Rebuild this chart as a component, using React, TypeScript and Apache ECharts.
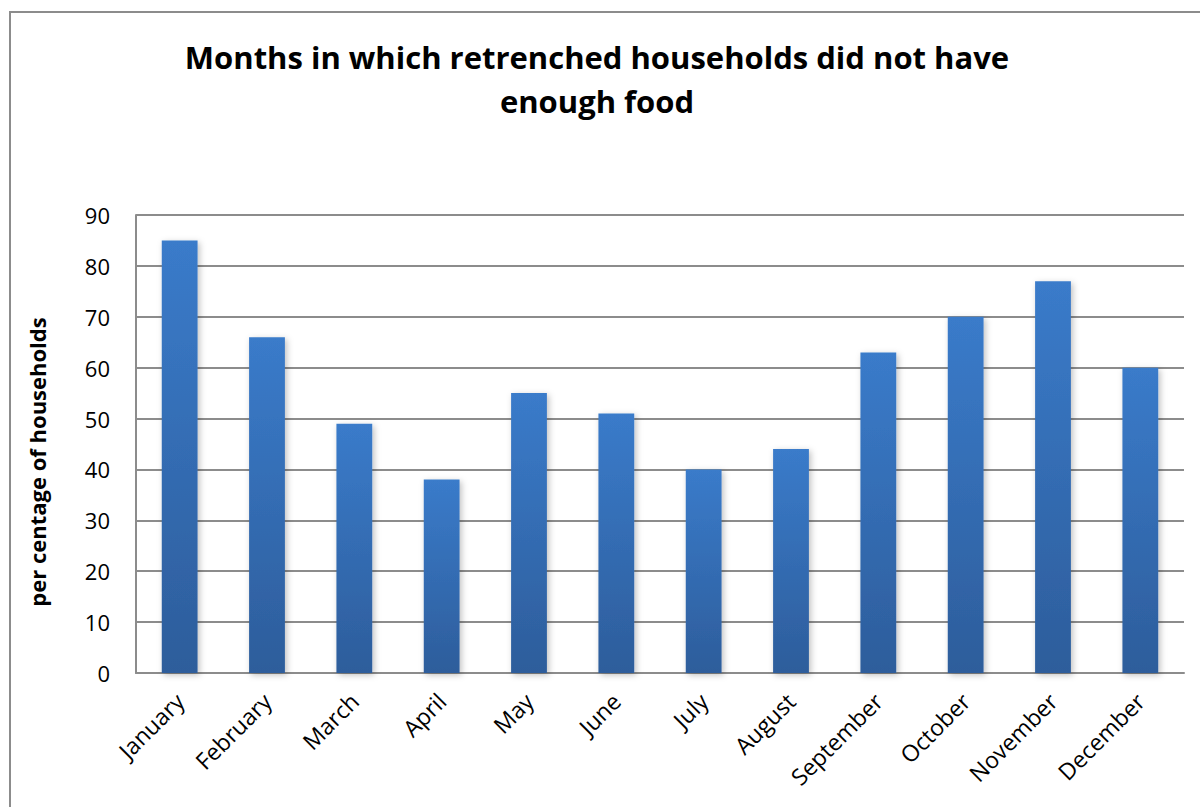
import React, { useEffect, useRef } from "react";
import * as echarts from "echarts";

const titleLines = ["Months in which retrenched households did not have", "enough food"];
const yAxisTitle = "per centage of households";
const months = [
  "January", "February", "March", "April", "May", "June",
  "July", "August", "September", "October", "November", "December",
];
const percentages = [85, 66, 49, 38, 55, 51, 40, 44, 63, 70, 77, 60];
const yMin = 0;
const yMax = 90;
const yStep = 10;

const FONT = "'Open Sans', 'Noto Sans', sans-serif";

export default function App() {
  const ref = useRef<HTMLDivElement>(null);
  useEffect(() => {
    if (!ref.current) return;
    const chart = echarts.init(ref.current, null, { renderer: "svg" });
    chart.setOption({
      animation: false,
      backgroundColor: "#ffffff",
      title: {
        text: titleLines.join("\n"),
        left: 592,
        textAlign: "center",
        top: 30,
        textStyle: {
          fontFamily: FONT,
          fontWeight: "bold",
          fontSize: 31,
          lineHeight: 44,
          color: "#000",
        },
      },
      graphic: [
        {
          type: "rect",
          shape: { x: 10, y: 12, width: 1400, height: 1000 },
          style: { fill: "none", stroke: "#8c8c8c", lineWidth: 2 },
          silent: true,
        },
        {
          type: "text",
          x: 37,
          y: 462,
          rotation: Math.PI / 2,
          silent: true,
          style: {
            text: yAxisTitle,
            fontFamily: FONT,
            fontWeight: "bold",
            fontSize: 22,
            fill: "#000",
            align: "center",
            verticalAlign: "middle",
          },
        },
      ],
      grid: { left: 136, top: 215, right: 16, bottom: 134, containLabel: false },
      xAxis: {
        type: "category",
        data: months,
        axisLine: { show: true, lineStyle: { color: "#8c8c8c", width: 2 } },
        axisTick: { show: false },
        axisLabel: {
          rotate: 45,
          margin: 24,
          fontFamily: FONT,
          fontSize: 23,
          color: "#000",
          interval: 0,
        },
      },
      yAxis: {
        type: "value",
        min: yMin,
        max: yMax,
        interval: yStep,
        axisLine: { show: true, lineStyle: { color: "#8c8c8c", width: 2 } },
        axisTick: { show: false },
        axisLabel: {
          margin: 26,
          fontFamily: FONT,
          fontSize: 22,
          color: "#000",
        },
        splitLine: { show: true, lineStyle: { color: "#8c8c8c", width: 2 } },
      },
      series: [
        {
          type: "bar",
          data: percentages,
          barWidth: "41%",
          itemStyle: {
            color: new echarts.graphic.LinearGradient(0, 0, 0, 1, [
              { offset: 0, color: "#3a7bca" },
              { offset: 1, color: "#2d5d9b" },
            ]),
            shadowColor: "rgba(0,0,0,0.25)",
            shadowBlur: 6,
            shadowOffsetX: 2,
            shadowOffsetY: 2,
          },
        },
      ],
    });
    return () => chart.dispose();
  }, []);
  return (
    <div
      ref={ref}
      style={{ position: "fixed", left: 0, top: 0, width: 1200, height: 807 }}
    />
  );
}
